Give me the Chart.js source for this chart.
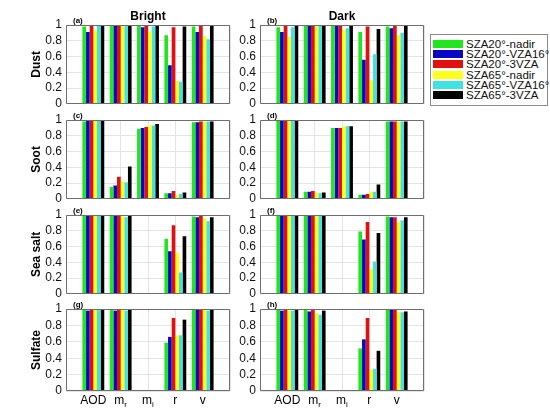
<!DOCTYPE html>
<html>
<head>
<meta charset="utf-8">
<script src="https://cdn.jsdelivr.net/npm/chart.js@4.4.1/dist/chart.umd.min.js"></script>
<style>
  body { margin: 0; background: #fff; width: 550px; height: 412px; position: relative; overflow: hidden;
         font-family: "Liberation Sans", Arial, sans-serif; }
  canvas { position: absolute; }
  #legend { position: absolute; left: 430px; top: 34px; width: 116px; height: 70px;
            border: 1px solid #8a8a8a; background: #fff; }
  .item { position: absolute; left: 2px; height: 10px; white-space: nowrap; }
  .sw { position: absolute; left: 0; top: 1px; width: 30px; height: 8px; }
  .lab { position: absolute; left: 33px; top: -2px; font-size: 11.5px; line-height: 14px; color: #111; }
</style>
</head>
<body>
<div id="legend"></div>
<script>
// categories and series
const categories = ['AOD', 'm_r', 'm_i', 'r', 'v'];
const seriesNames = ['SZA20°-nadir', 'SZA20°-VZA16°', 'SZA20°-3VZA', 'SZA65°-nadir', 'SZA65°-VZA16°', 'SZA65°-3VZA'];
const seriesColors = ['#1fe61f', '#0808c4', '#e01010', '#ffff1a', '#40e2e2', '#000000'];
const yTicks = [0, 0.2, 0.4, 0.6, 0.8, 1];

// one row per series, one value per category (AOD, m_r, m_i, r, v)
const dustBright = [
  [0.98, 1.00, 1.00, 0.87, 0.98],
  [0.91, 1.00, 0.97, 0.49, 0.91],
  [1.00, 1.00, 1.00, 0.97, 1.00],
  [0.93, 1.00, 0.92, 0.29, 0.86],
  [1.00, 1.00, 0.98, 0.28, 0.82],
  [1.00, 1.00, 1.00, 0.98, 1.00]
];
const dustDark = [
  [0.97, 0.99, 1.00, 0.91, 0.98],
  [0.91, 1.00, 1.00, 0.56, 0.96],
  [1.00, 1.00, 1.00, 0.98, 1.00],
  [0.85, 1.00, 0.94, 0.30, 0.87],
  [0.97, 1.00, 0.96, 0.63, 0.90],
  [0.99, 1.00, 1.00, 0.95, 1.00]
];
const sootBright = [
  [0.98, 0.15, 0.89, 0.07, 0.97],
  [0.99, 0.17, 0.90, 0.07, 0.97],
  [1.00, 0.28, 0.91, 0.10, 0.98],
  [1.00, 0.22, 0.93, 0.05, 0.98],
  [1.00, 0.21, 0.93, 0.06, 0.98],
  [1.00, 0.41, 0.95, 0.08, 0.98]
];
const sootDark = [
  [1.00, 0.09, 0.90, 0.05, 0.98],
  [1.00, 0.09, 0.90, 0.05, 0.98],
  [1.00, 0.10, 0.90, 0.06, 0.98],
  [1.00, 0.08, 0.92, 0.09, 0.98],
  [1.00, 0.07, 0.92, 0.09, 0.98],
  [1.00, 0.08, 0.92, 0.18, 0.98]
];
const seasaltBright = [
  [1.00, 1.00, 0.008, 0.70, 0.98],
  [1.00, 1.00, 0.008, 0.54, 0.97],
  [1.00, 1.00, 0.008, 0.87, 1.00],
  [1.00, 0.98, 0.008, 0.52, 0.96],
  [1.00, 0.97, 0.008, 0.27, 0.92],
  [1.00, 1.00, 0.008, 0.73, 0.97]
];
const seasaltDark = [
  [1.00, 1.00, 0.008, 0.79, 0.98],
  [1.00, 1.00, 0.008, 0.69, 0.97],
  [1.00, 1.00, 0.008, 0.91, 0.97],
  [1.00, 1.00, 0.008, 0.31, 0.91],
  [1.00, 1.00, 0.008, 0.41, 0.93],
  [1.00, 1.00, 0.008, 0.77, 0.97]
];
const sulfateBright = [
  [1.00, 0.99, 0.006, 0.59, 0.99],
  [0.98, 0.98, 0.006, 0.66, 1.00],
  [1.00, 1.00, 0.006, 0.89, 1.00],
  [1.00, 1.00, 0.006, 0.68, 0.99],
  [1.00, 0.98, 0.006, 0.68, 0.98],
  [1.00, 1.00, 0.006, 0.87, 1.00]
];
const sulfateDark = [
  [0.99, 0.99, 0.006, 0.52, 0.99],
  [0.98, 0.97, 0.006, 0.63, 0.99],
  [1.00, 1.00, 0.006, 0.89, 0.99],
  [0.98, 0.95, 0.006, 0.26, 0.96],
  [0.98, 0.93, 0.006, 0.27, 0.96],
  [0.99, 0.98, 0.006, 0.49, 0.97]
];

const panels = [
  { values: dustBright,    letter: '(a)', title: 'Bright', rowLabel: 'Dust',     row: 0, col: 0 },
  { values: dustDark,      letter: '(b)', title: 'Dark',   rowLabel: '',         row: 0, col: 1 },
  { values: sootBright,    letter: '(c)', title: '',       rowLabel: 'Soot',     row: 1, col: 0 },
  { values: sootDark,      letter: '(d)', title: '',       rowLabel: '',         row: 1, col: 1 },
  { values: seasaltBright, letter: '(e)', title: '',       rowLabel: 'Sea salt', row: 2, col: 0 },
  { values: seasaltDark,   letter: '(f)', title: '',       rowLabel: '',         row: 2, col: 1 },
  { values: sulfateBright, letter: '(g)', title: '',       rowLabel: 'Sulfate',  row: 3, col: 0 },
  { values: sulfateDark,   letter: '(h)', title: '',       rowLabel: '',         row: 3, col: 1 }
];

// layout of the plot boxes
const plotLeft = [66, 260];
const plotTop = [25, 120, 215, 309];
const plotW = 164, plotH = 82;
const yAxisW = [44, 30];
const padTop = 16, padRight = 2;
const FONT = '"Liberation Sans", Arial, sans-serif';

// box, panel letters, titles and x labels with subscripts
const panelText = {
  id: 'panelText',
  afterDraw(chart, args, o) {
    const ctx = chart.ctx, a = chart.chartArea;
    ctx.save();
    ctx.strokeStyle = '#6e6e6e';
    ctx.lineWidth = 1;
    ctx.beginPath();
    ctx.rect(Math.round(a.left) + 0.5, Math.round(a.top) + 0.5,
             Math.round(a.right - a.left) - 1, Math.round(a.bottom - a.top) - 1);
    ctx.stroke();

    ctx.fillStyle = '#000';
    ctx.textBaseline = 'alphabetic';
    ctx.textAlign = 'left';
    ctx.font = 'bold 8px ' + FONT;
    ctx.fillText(o.letter, a.left + 7, a.top - 2);

    if (o.title) {
      ctx.font = 'bold 12px ' + FONT;
      ctx.textAlign = 'center';
      ctx.fillText(o.title, (a.left + a.right) / 2, a.top - 5);
    }
    if (o.rowLabel) {
      ctx.save();
      ctx.translate(a.left - 29, (a.top + a.bottom) / 2);
      ctx.rotate(-Math.PI / 2);
      ctx.font = 'bold 12px ' + FONT;
      ctx.textAlign = 'center';
      ctx.textBaseline = 'middle';
      ctx.fillText(o.rowLabel, 0, 0);
      ctx.restore();
    }
    if (o.xLabels) {
      const xs = chart.scales.x;
      ctx.textAlign = 'left';
      categories.forEach((c, i) => {
        const parts = c.split('_');
        ctx.font = '12px ' + FONT;
        const w1 = ctx.measureText(parts[0]).width;
        ctx.font = '8px ' + FONT;
        const w2 = parts[1] ? ctx.measureText(parts[1]).width : 0;
        const x0 = xs.getPixelForValue(i + 1) - (w1 + w2) / 2;
        ctx.font = '12px ' + FONT;
        ctx.fillText(parts[0], x0, a.bottom + 13);
        if (parts[1]) {
          ctx.font = '8px ' + FONT;
          ctx.fillText(parts[1], x0 + w1, a.bottom + 16);
        }
      });
    }
    ctx.restore();
  }
};

panels.forEach(p => {
  const bottomRow = p.row === 3;
  const padBottom = bottomRow ? 22 : 8;
  const cw = yAxisW[p.col] + plotW + padRight;
  const ch = padTop + plotH + padBottom;
  const canvas = document.createElement('canvas');
  canvas.width = cw;
  canvas.height = ch;
  canvas.style.width = cw + 'px';
  canvas.style.height = ch + 'px';
  canvas.style.left = (plotLeft[p.col] - yAxisW[p.col]) + 'px';
  canvas.style.top = (plotTop[p.row] - padTop) + 'px';
  document.body.appendChild(canvas);

  new Chart(canvas, {
    type: 'bar',
    data: {
      datasets: seriesNames.map((name, s) => ({
        label: name,
        data: categories.map((c, i) => ({ x: i + 1, y: p.values[s][i] })),
        backgroundColor: seriesColors[s],
        borderWidth: 0,
        barPercentage: 1,
        categoryPercentage: 0.8
      }))
    },
    options: {
      responsive: false,
      animation: false,
      layout: { padding: { top: padTop, right: padRight, bottom: padBottom, left: 0 } },
      plugins: {
        legend: { display: false },
        tooltip: { enabled: false },
        panelText: { letter: p.letter, title: p.title, rowLabel: p.rowLabel, xLabels: bottomRow }
      },
      scales: {
        x: {
          type: 'linear',
          offset: false,
          min: 0, max: 6,
          ticks: { display: false, stepSize: 1 },
          grid: { color: '#e4e4e4', drawTicks: false, offset: false },
          border: { display: false },
          afterFit: s => { s.height = 0; }
        },
        y: {
          min: 0, max: 1,
          afterBuildTicks: s => { s.ticks = yTicks.map(v => ({ value: v })); },
          ticks: {
            color: '#111', padding: 4, autoSkip: false,
            font: { size: 12, family: FONT },
            callback: v => String(Math.round(v * 10) / 10)
          },
          grid: { color: '#e4e4e4', drawTicks: false },
          border: { display: false },
          afterFit: s => { s.width = yAxisW[p.col]; }
        }
      }
    },
    plugins: [panelText]
  });
});

// legend box
const legend = document.getElementById('legend');
seriesNames.forEach((name, s) => {
  const item = document.createElement('div');
  item.className = 'item';
  item.style.top = (4 + s * 10.2) + 'px';
  item.innerHTML = '<div class="sw" style="background:' + seriesColors[s] + '"></div><div class="lab">' + name + '</div>';
  legend.appendChild(item);
});
</script>
</body>
</html>
